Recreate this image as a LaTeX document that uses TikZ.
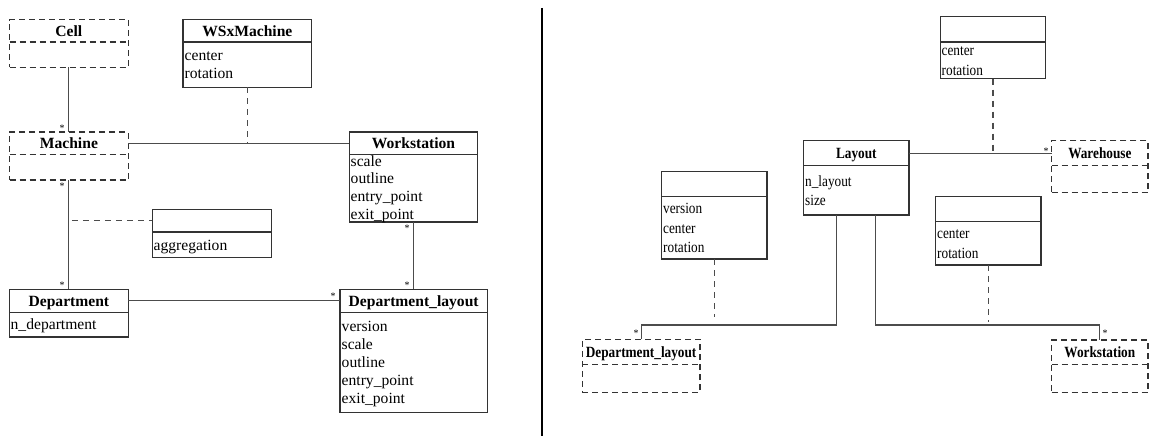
\documentclass[tikz,border=0pt]{standalone}
\usepackage{fontspec}
\setmainfont{Liberation Serif}
\newfontfamily\narrowserif[FakeStretch=0.85]{Liberation Serif}
\usetikzlibrary{fit}
\tikzset{
  box/.style={draw=black!80, line width=1.1pt, inner sep=0pt, outer sep=0pt},
  dbox/.style={box, dash pattern=on 6pt off 4pt},
  ttl/.style={font=\fontsize{15.6}{18}\selectfont\bfseries, inner sep=0pt, anchor=base},
  attr/.style={font=\fontsize{15.6}{18}\selectfont, inner sep=0pt, anchor=base west},
  rttl/.style={font=\fontsize{15.6}{18}\narrowserif\bfseries, inner sep=0pt, anchor=base},
  rattr/.style={font=\fontsize{15.6}{18}\narrowserif, inner sep=0pt, anchor=base west},
  conn/.style={draw=black!70, line width=1.1pt},
  dconn/.style={conn, dash pattern=on 6pt off 5pt},
  mult/.style={font=\fontsize{10}{10}\selectfont, inner sep=0pt},
}
% name, x1, y1, x2, y2, ydiv, style, title
\newcommand\umlclass[9][ttl]{%
  \node[#8, fit={(#3,#4) (#5,#6)}] (#2) {};
  \draw[#8] (#3,#7) -- (#5,#7);
  \coordinate (#2H) at ({(#3+#5)/2},{(#4+#7)/2});
  \node[#1] (#2T) at ({(#3+#5)/2},{(#4+#7)/2+5.3}) {#9};
}
\begin{document}
\begin{tikzpicture}[x=1pt,y=-1pt]
\useasboundingbox (0,0) rectangle (1149,436);

% ---------- left panel ----------
\umlclass{cell}{9.5}{19.7}{128.3}{67.3}{42}{dbox}{Cell}
\umlclass{wsx}{183}{19.7}{311.7}{87.3}{42}{box}{WSxMachine}
\node[attr] (wsxa1) at (184.5,60.5) {center};
\node[attr] (wsxa2) at (184.5,78.5) {rotation};

\umlclass{machine}{9.5}{132}{128.3}{180}{154.7}{dbox}{Machine}
\umlclass{ws}{349.3}{132}{477.7}{222}{154.7}{box}{Workstation}
\node[attr] (wsa1) at (350.5,166) {scale};
\node[attr] (wsa2) at (350.5,183.7) {outline};
\node[attr] (wsa3) at (350.5,201.3) {entry\_point};
\node[attr] (wsa4) at (350.5,219) {exit\_point};

\umlclass{agg}{152.3}{209.7}{271.3}{257.3}{232}{box}{}
\node[attr] (agga1) at (153.5,250) {aggregation};

\umlclass{dept}{9.5}{289.3}{128.3}{337}{312.3}{box}{Department}
\node[attr] (depta1) at (10.5,329) {n\_department};

\umlclass{dl}{340}{289.3}{487.3}{412.7}{312.3}{box}{Department\_layout}
\node[attr] (dla1) at (341.5,331.7) {version};
\node[attr] (dla2) at (341.5,349.5) {scale};
\node[attr] (dla3) at (341.5,367.3) {outline};
\node[attr] (dla4) at (341.5,385) {entry\_point};
\node[attr] (dla5) at (341.5,403) {exit\_point};

\draw[conn] (cell.south) -- (machine.north);
\draw[conn] (machine.south) -- (dept.north);
\draw[conn] (machineH -| machine.east) -- (machineH -| ws.west);
\draw[dconn] (wsx.south) -- (wsx.south |- machineH);
\draw[conn] (deptH -| dept.east) -- (deptH -| dl.west);
\draw[conn] (ws.south) -- (ws.south |- dl.north);
\draw[dconn] ([xshift=3pt]machine.south |- aggH) -- (aggH -| agg.west);

\node[mult] (m1) at (62,128) {*};
\node[mult] (m2) at (62,186) {*};
\node[mult] (m3) at (62,285) {*};
\node[mult] (m4) at (407,228) {*};
\node[mult] (m5) at (407,285) {*};
\node[mult] (m6) at (333,296) {*};

% ---------- separator ----------
\draw[black, line width=2.5pt] (542,8) -- (542,436);

% ---------- right panel ----------
\umlclass[rttl]{anonA}{940.3}{16.3}{1045.7}{78.7}{42}{box}{}
\node[rattr] (anAa1) at (941.5,56) {center};
\node[rattr] (anAa2) at (941.5,76) {rotation};

\umlclass[rttl]{layout}{803.7}{140.7}{909}{215}{165.7}{box}{Layout}
\node[rattr] (lya1) at (805,186.5) {n\_layout};
\node[rattr] (lya2) at (805,205) {size};

\umlclass[rttl]{wh}{1051.7}{140.7}{1148}{192.7}{165.7}{dbox}{Warehouse}

\umlclass[rttl]{anonB}{661.7}{171.7}{767}{259}{196.7}{box}{}
\node[rattr] (anBa1) at (663,213.3) {version};
\node[rattr] (anBa2) at (663,233.3) {center};
\node[rattr] (anBa3) at (663,252.7) {rotation};

\umlclass[rttl]{anonC}{935.7}{196.7}{1041}{265}{221.7}{box}{}
\node[rattr] (anCa1) at (937,238.3) {center};
\node[rattr] (anCa2) at (937,258) {rotation};

\umlclass[rttl]{dl2}{582.3}{339.3}{700}{392.3}{364.3}{dbox}{Department\_layout}
\umlclass[rttl]{ws2}{1051.7}{340}{1148}{392.3}{364.3}{dbox}{Workstation}

\coordinate (j1) at (836.7,325);
\coordinate (j2) at (875.7,325);
\draw[conn] (layoutH -| layout.east) -- (layoutH -| wh.west);
\draw[dconn] (anonA.south) -- (anonA.south |- layoutH);
\draw[conn] (layout.south -| j1) -- (j1) -| (dl2.north);
\draw[conn] (layout.south -| j2) -- (j2) -| (ws2.north);
\draw[dconn] (anonB.south) -- ([yshift=8pt]anonB.south |- j1);
\draw[dconn] (anonC.south) -- ([yshift=3.5pt]anonC.south |- j2);

\node[mult] (m7) at (1046,151) {*};
\node[mult] (m8) at (636,333) {*};
\node[mult] (m9) at (1105,333) {*};
\end{tikzpicture}
\end{document}
